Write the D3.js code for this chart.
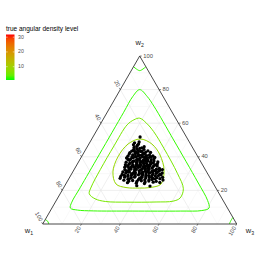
<!DOCTYPE html>
<html>
<head>
<meta charset="utf-8">
<script src="https://cdn.jsdelivr.net/npm/d3@7"></script>
<style>
  body { margin: 0; background: #fff; }
  svg { display: block; font-family: "Liberation Sans", Arial, sans-serif; }
</style>
</head>
<body>
<script>
// ternary data: [w1, w2] pairs, w3 = 100 - w1 - w2
const obs = [
  [23.9,51.8],[28.5,48.3],[26.8,47.6],[25.9,48.8],[29.6,47.2],[27.7,46.9],
  [30.1,45.6],[28.4,46.2],[26.3,45.3],[24.7,46.0],[27.5,45.0],[29.2,44.7],[25.6,44.4],[31.0,44.2],
  [32.4,43.4],[30.6,43.0],[28.9,43.7],[27.2,43.2],[25.5,42.8],[24.0,43.5],[23.1,42.6],[33.8,42.5],[29.8,42.3],[26.4,41.9],
  [34.6,41.6],[33.0,41.2],[31.3,41.8],[29.5,40.9],[27.8,41.4],[26.0,40.7],[24.4,41.1],[22.9,40.6],[35.9,40.4],[32.2,40.2],[28.6,39.9],[25.1,39.7],
  [37.1,39.3],[35.2,38.8],[33.6,39.5],[31.8,38.6],[30.3,39.2],[28.0,38.5],[26.7,39.0],[24.9,38.3],[23.2,38.9],[22.4,39.6],[36.3,37.9],[34.1,37.6],[29.4,37.7],[27.1,37.4],[32.7,37.2],[25.8,37.0],[23.9,37.5],
  [38.6,36.8],[37.0,36.2],[35.4,36.6],[33.5,35.9],[31.5,36.4],[30.0,35.7],[28.4,36.1],[26.6,35.6],[24.8,36.3],[23.0,35.8],[22.2,36.9],[39.7,35.3],[36.1,35.1],[32.6,34.9],[29.1,34.7],[27.5,35.0],[25.4,34.6],[34.8,34.4],[31.0,34.2],[23.7,34.5],
  [40.8,33.8],[38.9,33.5],[37.4,34.0],[35.7,33.2],[33.9,33.7],[32.1,33.0],[30.4,33.4],[28.7,32.8],[26.9,33.3],[25.1,32.6],[23.3,33.1],[22.1,32.4],[41.5,32.3],[39.6,32.0],[36.6,32.1],[34.3,31.8],[29.6,31.9],[27.8,31.6],[31.5,31.4],[24.4,31.5],
  [43.2,31.0],[42.0,30.4],[40.4,30.9],[38.3,30.2],[36.9,30.7],[35.1,30.0],[33.4,30.5],[31.8,29.9],[30.0,30.3],[28.3,29.7],[26.5,30.1],[24.8,29.6],[23.2,30.4],[44.3,29.5],[37.8,29.2],[34.2,28.9],[29.2,29.0],[25.9,28.8],[39.9,28.8],[32.6,28.6],
  [45.6,28.3],[43.8,27.9],[41.9,28.4],[40.6,27.5],[38.7,27.9],[36.4,27.3],[35.0,28.0],[33.2,27.4],[31.1,27.8],[29.6,27.1],[27.4,27.6],[26.1,27.0],[24.3,27.8],[46.5,27.2],[42.7,26.7],[37.5,26.4],[30.4,26.5],[34.3,26.2],
  [45.1,26.1],[42.9,25.5],[40.7,25.9],[38.8,25.3],[36.3,25.7],[34.7,25.0],[32.5,25.6],[30.6,24.9],[28.8,25.4],[27.3,24.7],[44.0,24.6],[39.6,24.3],[35.5,24.1],
  [40.1,22.8],[33.4,22.6],[24.4,29.2],[24.9,26.2],
  [31.2,42.4],[27.0,42.0],[34.0,40.0],[30.7,40.5],[26.9,40.2],[24.0,40.0],[36.8,38.4],[31.0,37.9],[28.2,37.3],[33.3,36.7],
  [30.8,36.9],[26.0,36.6],[37.8,35.5],[34.3,35.2],[29.9,36.3],[27.9,34.2],[24.3,35.2],[39.0,34.4],[36.0,33.9],[32.8,34.0],
  [30.1,34.5],[26.2,34.0],[38.1,32.7],[33.0,32.3],[29.1,33.3],[26.0,31.8],[23.7,32.0],[41.0,31.6],[37.1,31.2],[34.7,31.0],
  [30.6,31.2],[28.0,30.8],[25.6,30.7],[39.3,29.8],[36.0,29.3],[31.0,28.8],[27.6,28.7],[41.5,29.1],[33.7,29.6],[29.4,30.6],
  [38.2,28.4],[35.9,26.8],[32.0,26.4],[28.6,26.9],[43.4,29.0],[30.0,41.2],[28.0,43.2],[32.5,38.2],[35.0,37.2],[27.7,39.5],
  [29.0,38.0],[31.9,35.0],[35.5,32.5],[33.0,30.9],[28.4,34.9],[37.4,29.9],[32.0,39.9],[26.8,38.1],[30.8,32.6],[34.9,27.9],
  [39.8,31.0],[26.9,31.7],[33.5,34.6],[29.8,28.0],[36.5,34.5],[31.4,43.7],[41.9,26.9],[28.5,40.8]
];

// contour lines of the true angular density, [w1, w2]
const contourOuter = [
  [10,80],[8.2,76],[7.6,70],[7.5,50],[7.6,25],[8,14],[9.5,9.5],[14,8],[25,7.7],[50,7.7],
  [70,7.8],[78,8.3],[81,9.5],[78.5,13],[70,21.5],[50,41.5],[25,66.5],[15.5,76]
];
const contourMid = [
  [18.5,63],[16.5,60],[15.3,55],[15,45],[15.5,30],[17,21],[21.4,15.5],[26,13.6],[35,13.1],[50,13],
  [61,13.4],[65.5,15],[67,18],[64,22],[54,32.5],[40,46.5],[27,59],[22,62]
];
const contourInner = [
  [24.5,50.6],[19.9,47.6],[19.0,41.1],[21.4,32.1],[27.1,23.8],[33.8,21.7],[39.6,21.4],[46.2,21.7],
  [50.3,23.8],[48.3,31.0],[41.3,39.9],[32.2,47.6]
];
const cornerTop = [[6.4,93.6],[5.2,91.8],[4.35,91.3],[3.0,91.8],[0,93.6]];
const cornerLeft = [[97.4,2.6],[96.6,1.6],[96.9,0]];
const cornerRight = [[0,3.9],[1.9,2.1],[3.8,0]];

const contourLevels = [
  { level: 1.8, pts: contourOuter, closed: true },
  { level: 5.5, pts: contourMid, closed: true },
  { level: 8.5, pts: contourInner, closed: true },
  { level: 1.8, pts: cornerTop, closed: false },
  { level: 1.8, pts: cornerLeft, closed: false },
  { level: 1.8, pts: cornerRight, closed: false },
];

const tickValues = [20, 40, 60, 80, 100];
const gridMajor = [20, 40, 60, 80];
const gridMinor = [10, 30, 50, 70, 90];
const legendTicks = [10, 20, 30];
const legendRange = [1, 31.8];

//
const w = 280;
const h = 280;
const svg = d3.select("body").append("svg").attr("width", w).attr("height", h);

// ternary -> cartesian
const xS = d3.scaleLinear().domain([0, 100]).range([42.7, 236.7]);
const yS = d3.scaleLinear().domain([0, 100]).range([224, 56]);
const proj = (w1, w2) => {
  const w3 = 100 - w1 - w2;
  return [xS(w3 + w2 / 2), yS(w2)];
};

const color = d3
  .scaleLinear()
  .domain(legendRange)
  .range(["#00ff00", "#ff0000"])
  .interpolate(d3.interpolateLab);

const plot = svg.append("g");

// grid
const gridLines = (vals) =>
  vals.flatMap((v) => [
    [proj(100 - v, v), proj(0, v)],
    [proj(v, 100 - v), proj(v, 0)],
    [proj(100 - v, 0), proj(0, 100 - v)],
  ]);

plot
  .selectAll("line.minor")
  .data(gridLines(gridMinor))
  .enter()
  .append("line")
  .attr("x1", (d) => d[0][0])
  .attr("y1", (d) => d[0][1])
  .attr("x2", (d) => d[1][0])
  .attr("y2", (d) => d[1][1])
  .attr("stroke", "#f2f2f2")
  .attr("stroke-width", 0.5);

plot
  .selectAll("line.major")
  .data(gridLines(gridMajor))
  .enter()
  .append("line")
  .attr("x1", (d) => d[0][0])
  .attr("y1", (d) => d[0][1])
  .attr("x2", (d) => d[1][0])
  .attr("y2", (d) => d[1][1])
  .attr("stroke", "#e4e4e4")
  .attr("stroke-width", 0.6);

// contours
const lineClosed = d3
  .line()
  .x((d) => proj(d[0], d[1])[0])
  .y((d) => proj(d[0], d[1])[1])
  .curve(d3.curveCatmullRomClosed);
const lineOpen = d3
  .line()
  .x((d) => proj(d[0], d[1])[0])
  .y((d) => proj(d[0], d[1])[1])
  .curve(d3.curveCatmullRom);

plot
  .selectAll("path.contour")
  .data(contourLevels)
  .enter()
  .append("path")
  .attr("d", (d) => (d.closed ? lineClosed(d.pts) : lineOpen(d.pts)))
  .attr("fill", "none")
  .attr("stroke", (d) => color(d.level))
  .attr("stroke-width", 1);

// triangle border
const verts = [proj(100, 0), proj(0, 100), proj(0, 0)];
plot
  .append("path")
  .attr("d", d3.line()(verts) + "Z")
  .attr("fill", "none")
  .attr("stroke", "#333")
  .attr("stroke-width", 0.9);

// points
plot
  .selectAll("circle")
  .data(obs)
  .enter()
  .append("circle")
  .attr("cx", (d) => proj(d[0], d[1])[0])
  .attr("cy", (d) => proj(d[0], d[1])[1])
  .attr("r", 1.65)
  .attr("fill", "#000");

// axis ticks + labels
const axes = [
  // w1 on left edge
  { at: (v) => proj(v, 100 - v), dir: [-0.5, -0.866], rot: 60, anchor: "end" },
  // w2 on right edge
  { at: (v) => proj(0, v), dir: [1, 0], rot: 0, anchor: "start" },
  // w3 on bottom edge
  { at: (v) => proj(100 - v, 0), dir: [-0.5, 0.866], rot: -60, anchor: "end" },
];
axes.forEach((ax) => {
  const g = plot.append("g");
  g.selectAll("line")
    .data(tickValues)
    .enter()
    .append("line")
    .attr("x1", (v) => ax.at(v)[0])
    .attr("y1", (v) => ax.at(v)[1])
    .attr("x2", (v) => ax.at(v)[0] + ax.dir[0] * 2)
    .attr("y2", (v) => ax.at(v)[1] + ax.dir[1] * 2)
    .attr("stroke", "#333")
    .attr("stroke-width", 0.6);
  g.selectAll("text")
    .data(tickValues)
    .enter()
    .append("text")
    .attr("transform", (v) => {
      const p = ax.at(v);
      return `translate(${p[0] + ax.dir[0] * 3.5},${p[1] + ax.dir[1] * 3.5}) rotate(${ax.rot})`;
    })
    .attr("text-anchor", ax.anchor)
    .attr("dominant-baseline", "middle")
    .attr("font-size", 5.8)
    .attr("fill", "#4d4d4d")
    .text((v) => v);
});

// axis titles
const titles = [
  { n: "1", x: 29, y: 233 },
  { n: "2", x: 139.7, y: 45 },
  { n: "3", x: 250, y: 233 },
];
titles.forEach((t) => {
  const tx = svg
    .append("text")
    .attr("x", t.x)
    .attr("y", t.y)
    .attr("text-anchor", "middle")
    .attr("font-size", 7.5)
    .attr("fill", "#1a1a1a");
  tx.append("tspan").text("w");
  tx.append("tspan").attr("dy", 1.8).attr("font-size", 5.2).text(t.n);
});

// legend
const ly = d3.scaleLinear().domain(legendRange).range([80, 34.5]);
const defs = svg.append("defs");
const grad = defs
  .append("linearGradient")
  .attr("id", "lg")
  .attr("x1", 0)
  .attr("y1", 1)
  .attr("x2", 0)
  .attr("y2", 0);
d3.range(0, 1.0001, 0.1).forEach((t) => {
  grad
    .append("stop")
    .attr("offset", t)
    .attr("stop-color", color(legendRange[0] + t * (legendRange[1] - legendRange[0])));
});

svg
  .append("text")
  .attr("x", 6)
  .attr("y", 30.5)
  .attr("font-size", 6.5)
  .attr("fill", "#000")
  .text("true angular density level");

svg
  .append("rect")
  .attr("x", 6)
  .attr("y", ly(legendRange[1]))
  .attr("width", 8.5)
  .attr("height", ly(legendRange[0]) - ly(legendRange[1]))
  .attr("fill", "url(#lg)");

const lt = svg.append("g");
lt.selectAll("line.l")
  .data(legendTicks)
  .enter()
  .append("line")
  .attr("x1", 6)
  .attr("x2", 7.7)
  .attr("y1", (d) => ly(d))
  .attr("y2", (d) => ly(d))
  .attr("stroke", "#fff")
  .attr("stroke-width", 0.5);
lt.selectAll("line.r")
  .data(legendTicks)
  .enter()
  .append("line")
  .attr("x1", 12.8)
  .attr("x2", 14.5)
  .attr("y1", (d) => ly(d))
  .attr("y2", (d) => ly(d))
  .attr("stroke", "#fff")
  .attr("stroke-width", 0.5);
lt.selectAll("text")
  .data(legendTicks)
  .enter()
  .append("text")
  .attr("x", 18)
  .attr("y", (d) => ly(d))
  .attr("dominant-baseline", "middle")
  .attr("font-size", 5.2)
  .attr("fill", "#4d4d4d")
  .text((d) => d);
</script>
</body>
</html>
